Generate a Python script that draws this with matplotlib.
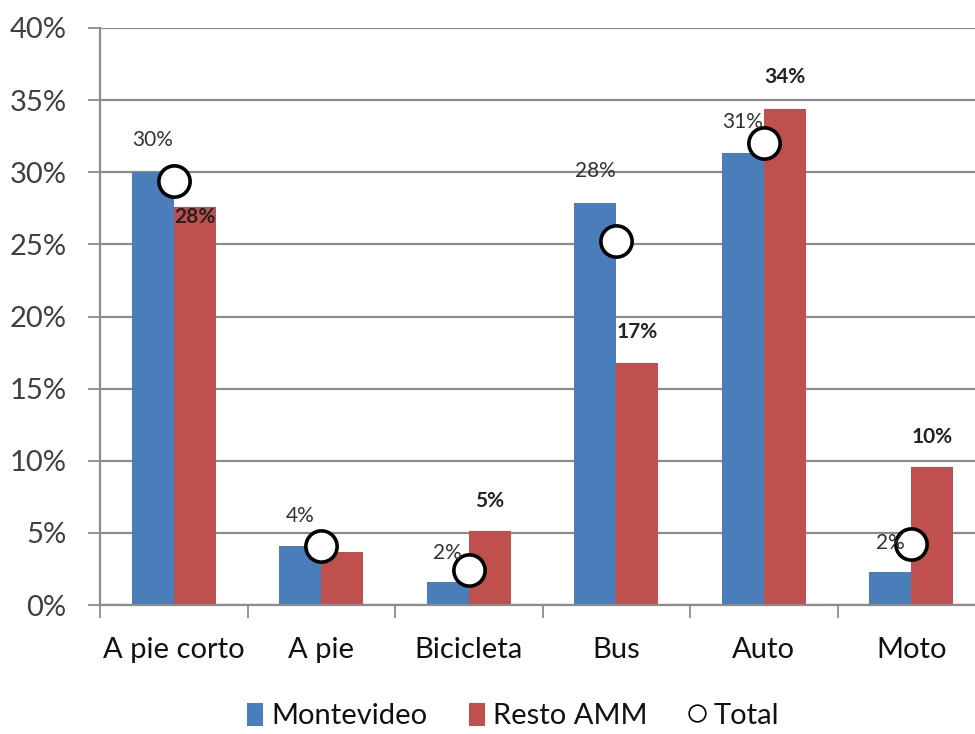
import matplotlib
matplotlib.use("Agg")
import matplotlib.pyplot as plt
import numpy as np
from matplotlib.lines import Line2D
from matplotlib.patches import Patch

categories = ["A pie corto", "A pie", "Bicicleta", "Bus", "Auto", "Moto"]
montevideo = [30.0, 4.1, 1.6, 27.9, 31.3, 2.3]
resto_amm = [27.6, 3.7, 5.1, 16.8, 34.4, 9.6]
total = [29.4, 4.1, 2.4, 25.2, 32.0, 4.2]
mvd_labels = ["30%", "4%", "2%", "28%", "31%", "2%"]
resto_labels = ["28%", "", "5%", "17%", "34%", "10%"]
y_ticks = [0, 5, 10, 15, 20, 25, 30, 35, 40]

# label vertical offsets in pixels (positions, not data)
mvd_off = [32, 30, 29, 32, 31, 29]
resto_off = [-10, 0, 30, 31, 32, 30]

BLUE = "#4A7EBB"
RED = "#C0504D"
GRID = "#8C8C8C"
TXT = "#404040"

plt.rcParams['font.family'] = ['Lato', 'DejaVu Sans']

fig = plt.figure(figsize=(9.75, 7.34), dpi=100)
W, H = 975, 734
ax = fig.add_axes([100 / W, 129 / H, (6 * 147.5) / W, (605 - 28) / H])

x = np.arange(len(categories))
bw = 0.285
ax.bar(x - bw / 2, montevideo, bw, color=BLUE, zorder=2)
ax.bar(x + bw / 2, resto_amm, bw, color=RED, zorder=2)
ax.plot(x, total, linestyle="none", marker="o", markersize=22.5,
        markerfacecolor="white", markeredgecolor="black", markeredgewidth=2.6, zorder=4)

for i in range(len(categories)):
    if mvd_labels[i]:
        ax.annotate(mvd_labels[i], (x[i] - bw / 2, montevideo[i]), xytext=(0, mvd_off[i] * 0.72),
                    textcoords="offset points", ha="center", va="center", fontsize=15,
                    color="#333333", zorder=5)
    if resto_labels[i]:
        ax.annotate(resto_labels[i], (x[i] + bw / 2, resto_amm[i]), xytext=(0, resto_off[i] * 0.72),
                    textcoords="offset points", ha="center", va="center", fontsize=15,
                    color="#222222", fontweight="bold", zorder=5)

ax.set_xlim(-0.5, len(categories) - 0.5)
ax.set_ylim(0, 40)
ax.set_yticks(y_ticks)
ax.set_yticklabels([f"{t}%" for t in y_ticks])
ax.yaxis.grid(True, color=GRID, linewidth=1.6, zorder=0)
ax.set_axisbelow(True)

ax.set_xticks(np.arange(-0.5, len(categories), 1.0))
ax.set_xticklabels([])
ax.set_xticks(x, minor=True)
ax.set_xticklabels(categories, minor=True)
ax.tick_params(axis="x", which="minor", length=0, pad=23, labelsize=21, labelcolor="#111111")
ax.tick_params(axis="x", which="major", length=9, width=1.3, color=GRID, direction="out")
ax.tick_params(axis="y", length=9, width=1.3, color=GRID, labelsize=21, labelcolor=TXT, pad=15)

for s in ["top", "right"]:
    ax.spines[s].set_visible(False)
for s in ["left", "bottom"]:
    ax.spines[s].set_color(GRID)
    ax.spines[s].set_linewidth(1.6)

handles = [Patch(facecolor=BLUE, label="Montevideo"),
           Patch(facecolor=RED, label="Resto AMM"),
           Line2D([], [], linestyle="none", marker="o", markersize=12,
                  markerfacecolor="white", markeredgecolor="black", markeredgewidth=1.2, label="Total")]
fig.legend(handles=handles, loc="center", bbox_to_anchor=(513 / W, 1 - 716 / H), ncol=3,
           frameon=False, fontsize=21, handlelength=0.55, handleheight=0.85, handletextpad=0.3,
           columnspacing=1.4, labelcolor="#111111")

fig.savefig("out.png", dpi=100)
